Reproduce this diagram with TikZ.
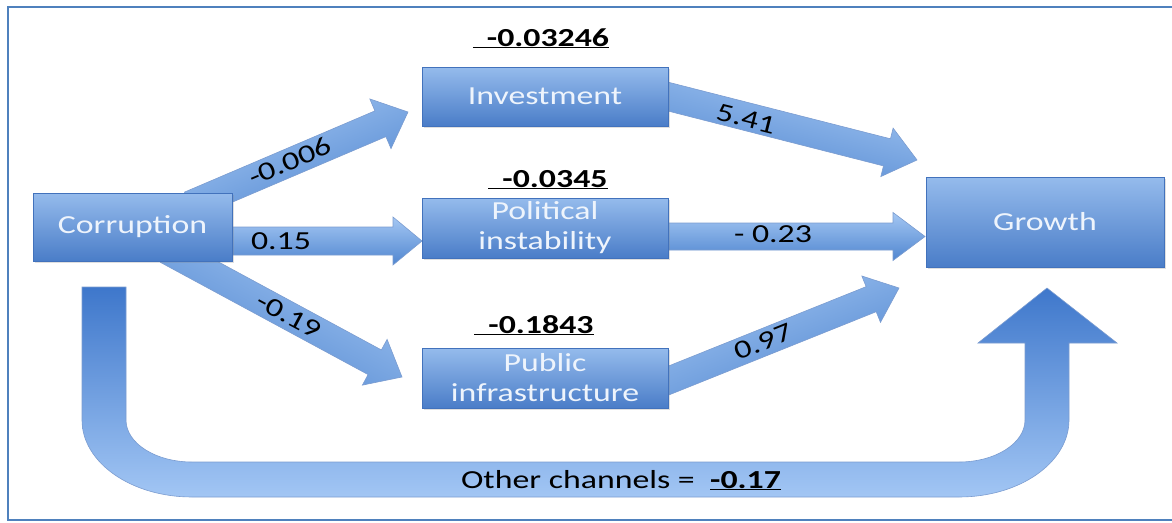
\documentclass[tikz,border=0pt]{standalone}
\usepackage{fontspec}
\setmainfont{Carlito}[FakeStretch=1.3]
\usetikzlibrary{calc,shadows,backgrounds}
\definecolor{frame}{HTML}{4F81BD}
\definecolor{boxtop}{HTML}{95BBEC}
\definecolor{boxbot}{HTML}{4A7DC8}
\definecolor{boxline}{HTML}{4272BC}
\definecolor{arrtop}{HTML}{A4C7F3}
\definecolor{arrbot}{HTML}{5086D0}
\definecolor{boxtext}{HTML}{EEF4FC}
\definecolor{utop}{HTML}{3E77CB}
\definecolor{ubot}{HTML}{A2C6F4}
\tikzset{
  box/.style={draw=boxline, line width=0.8pt, top color=boxtop, bottom color=boxbot,
    text=boxtext, align=center, font=\fontsize{26}{30}\selectfont, inner sep=0pt,
    drop shadow={opacity=0.25, shadow xshift=2pt, shadow yshift=-2pt}},
  val/.style={font=\fontsize{26}{30}\selectfont, text=black, inner sep=0pt},
  coef/.style={font=\bfseries\fontsize{26}{30}\selectfont, inner sep=0pt, anchor=base},
  arr/.style={draw=boxline!70, line width=0.6pt, top color=arrtop, bottom color=arrbot},
}
\newcommand\blockarrow[6]{%
  \coordinate (ba-h) at ($(#2)!#5!(#1)$);
  \path[arr, shading angle=#6]
    ($(#1)!#3!90:(#2)$) -- ($(ba-h)!#3!90:(#2)$) -- ($(ba-h)!#4!90:(#2)$) -- (#2)
    -- ($(ba-h)!#4!-90:(#2)$) -- ($(ba-h)!#3!-90:(#2)$) -- ($(#1)!#3!-90:(#2)$) -- cycle;
}
\begin{document}
\begin{tikzpicture}[x=1pt,y=-1pt]
\useasboundingbox (0,0) rectangle (1172,522);
\draw[frame, line width=2.5pt] (1172,7) -- (8,7) -- (8,520) -- (1172,520);

% boxes
\node[box, minimum width=199pt, minimum height=68pt] (corr) at (132.5,227) {Corruption};
\node[box, minimum width=246pt, minimum height=59pt] (inv) at (545,96.5) {Investment};
\node[box, minimum width=246pt, minimum height=60pt] (pol) at (545,228) {Political\\instability};
\node[box, minimum width=246pt, minimum height=60pt] (pub) at (545,378) {Public\\infrastructure};
\node[box, minimum width=238pt, minimum height=90pt] (grow) at (1045,222) {Growth};

% coefficients above boxes
\node[coef] (c1) at (541,46) {\underline{\hspace{14pt}-0.03246}};
\node[coef] (c2) at (548,187) {\underline{\hspace{14pt}-0.0345}};
\node[coef] (c3) at (534,333) {\underline{\hspace{14pt}-0.1843}};

% connector end points
\coordinate (a1s) at (190,205); \coordinate (a1e) at (408,112);
\coordinate (a2s) at (200,241); \coordinate (a2e) at (422,241);
\coordinate (a3s) at (167,250); \coordinate (a3e) at (402,377);
\coordinate (a4s) at (650,92);  \coordinate (a4e) at (917,160);
\coordinate (a5s) at (650,236.5); \coordinate (a5e) at (925,236.5);
\coordinate (a6s) at (650,388); \coordinate (a6e) at (899,288);

\begin{scope}[on background layer]
\blockarrow{a1s}{a1e}{14pt}{27pt}{30pt}{23}
\blockarrow{a2s}{a2e}{14pt}{24pt}{29pt}{0}
\blockarrow{a3s}{a3e}{14pt}{26pt}{31pt}{-28}
\blockarrow{a4s}{a4e}{14pt}{25pt}{31pt}{-14}
\blockarrow{a5s}{a5e}{13.5pt}{24pt}{32pt}{0}
\blockarrow{a6s}{a6e}{13.5pt}{25pt}{30pt}{22}
% U-turn arrow: other channels
\path[draw=boxline!70, line width=0.6pt, top color=utop, bottom color=ubot]
  (82,287) -- (82,420) .. controls (82,462.5) and (131.2,497) .. (192,497)
  -- (959,497) .. controls (1019.75,497) and (1069,462.5) .. (1069,420)
  -- (1069,343) -- (1117,343) -- (1047,288) -- (978,343) -- (1025,343)
  -- (1025,420) .. controls (1025,443.2) and (995.45,462) .. (959,462)
  -- (192,462) .. controls (155.5,462) and (126,443.2) .. (126,420)
  -- (126,287) -- cycle;
\end{scope}

% connector labels
\node[val, rotate=23] (l1) at (290,161) {-0.006};
\node[val] (l2) at (281,241) {0.15};
\node[val, rotate=-28] (l3) at (289,316) {-0.19};
\node[val, rotate=-14] (l4) at (746,119) {5.41};
\node[val] (l5) at (773,234) {- 0.23};
\node[val, rotate=22] (l6) at (763,342) {0.97};
\node[val, anchor=base east] (l7) at (695,488) {Other channels =};
\node[val, anchor=base west, font=\bfseries\fontsize{26}{30}\selectfont] (l8) at (710,488) {\underline{-0.17}};
\end{tikzpicture}
\end{document}
